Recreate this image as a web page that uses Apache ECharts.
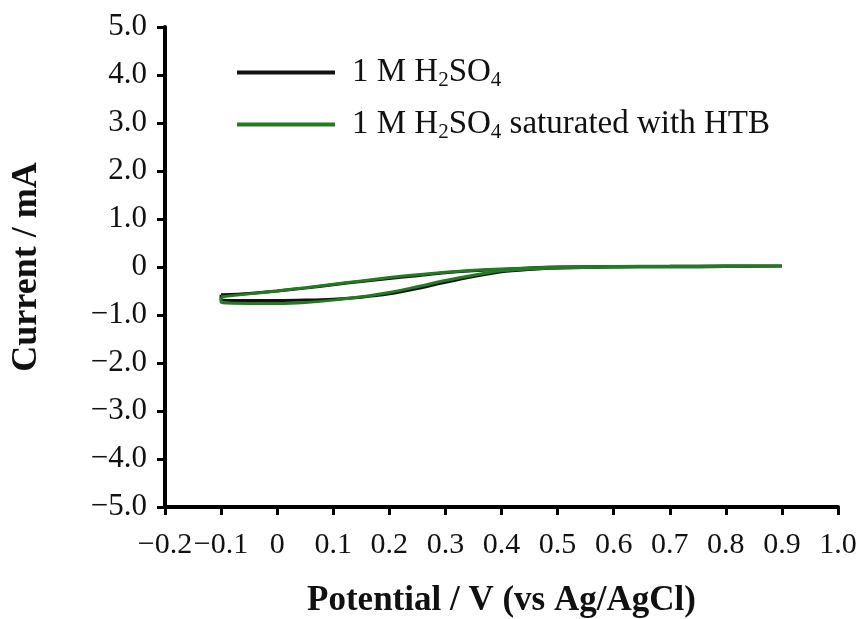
<!DOCTYPE html>
<html>
<head>
    <meta charset="UTF-8">
    <title>CV</title>
    <script src="https://cdn.jsdelivr.net/npm/echarts@6/dist/echarts.min.js"></script>
    <style type="text/css">
        html, body, #main {
            height: 100%;
            width: 100%;
            margin: 0;
            padding: 0;
            background: #fff;
        }
    </style>
</head>
<body>
<div id="main"></div>
<script type="text/javascript">
    // potential (V) and current (mA), forward scan then reverse scan
    var blackV = [-0.1, -0.05, 0, 0.05, 0.1, 0.15, 0.2, 0.25, 0.3, 0.35, 0.4, 0.45, 0.5, 0.6, 0.7, 0.8, 0.9,
                  0.8, 0.7, 0.6, 0.5, 0.45, 0.4, 0.35, 0.3, 0.25, 0.2, 0.15, 0.1, 0.05, 0, -0.05, -0.1, -0.1];
    var blackI = [-0.58, -0.55, -0.50, -0.44, -0.37, -0.30, -0.24, -0.18, -0.12, -0.08, -0.05, -0.02, 0.0, 0.01, 0.015, 0.02, 0.02,
                  0.01, 0.005, 0.0, -0.02, -0.05, -0.10, -0.20, -0.32, -0.45, -0.56, -0.63, -0.67, -0.69, -0.70, -0.70, -0.68, -0.58];
    var greenV = [-0.1, -0.05, 0, 0.05, 0.1, 0.15, 0.2, 0.25, 0.3, 0.35, 0.4, 0.45, 0.5, 0.6, 0.7, 0.8, 0.9,
                  0.8, 0.7, 0.6, 0.5, 0.45, 0.4, 0.35, 0.3, 0.25, 0.2, 0.15, 0.1, 0.05, 0, -0.05, -0.1, -0.1];
    var greenI = [-0.62, -0.56, -0.50, -0.43, -0.36, -0.29, -0.22, -0.16, -0.11, -0.07, -0.04, -0.02, -0.005, 0.01, 0.015, 0.02, 0.02,
                  0.01, 0.005, 0.0, -0.02, -0.04, -0.08, -0.17, -0.28, -0.41, -0.53, -0.62, -0.69, -0.74, -0.76, -0.76, -0.74, -0.62];
    var seriesNames = ['1 M H2SO4', '1 M H2SO4 saturated with HTB'];

    function zip(a, b) {
        var out = [];
        for (var i = 0; i < a.length; i++) out.push([a[i], b[i]]);
        return out;
    }
    function fmt(v) {
        if (Math.abs(v) < 1e-9) return '0';
        var s = Math.abs(v).toFixed(1);
        return v < 0 ? '\u2212' + s : s;
    }

    var font = '"Liberation Serif", "Times New Roman", serif';
    var mycharts = echarts.init(document.getElementById('main'));
    var option = {
        backgroundColor: '#fff',
        animation: false,
        grid: {left: 165, right: 28, top: 27, bottom: 112, outerBoundsMode: 'none'},
        legend: {
            orient: 'vertical',
            left: 232,
            top: 51,
            itemGap: 17,
            itemWidth: 98,
            itemHeight: 4,
            icon: 'rect',
            data: seriesNames,
            formatter: function (name) {
                return name.replace('H2SO4', 'H{sub|2}SO{sub|4}');
            },
            textStyle: {
                fontFamily: font,
                fontSize: 33,
                color: '#111',
                padding: [0, 0, 0, 12],
                rich: {
                    sub: {fontFamily: font, fontSize: 21, color: '#111', padding: [16, 0, 0, 0]}
                }
            }
        },
        xAxis: {
            type: 'value',
            min: -0.2,
            max: 1.0,
            interval: 0.1,
            name: 'Potential / V (vs Ag/AgCl)',
            nameLocation: 'middle',
            nameGap: 76,
            nameTextStyle: {fontFamily: font, fontSize: 35, fontWeight: 'bold', color: '#111'},
            splitLine: {show: false},
            axisLine: {onZero: false, lineStyle: {color: '#000', width: 4}},
            axisTick: {length: 8, lineStyle: {color: '#000', width: 3}},
            axisLabel: {margin: 23, fontFamily: font, fontSize: 30, color: '#111', formatter: fmt}
        },
        yAxis: {
            type: 'value',
            min: -5,
            max: 5,
            interval: 1,
            name: 'Current / mA',
            nameLocation: 'middle',
            nameGap: 120,
            nameTextStyle: {fontFamily: font, fontSize: 36, fontWeight: 'bold', color: '#111'},
            splitLine: {show: false},
            axisLine: {show: true, onZero: false, lineStyle: {color: '#000', width: 4}},
            axisTick: {show: true, length: 8, lineStyle: {color: '#000', width: 3}},
            axisLabel: {margin: 18, fontFamily: font, fontSize: 31, color: '#111', formatter: fmt}
        },
        series: [
            {
                name: seriesNames[0],
                type: 'line',
                symbol: 'none',
                smooth: 0.3,
                data: zip(blackV, blackI),
                lineStyle: {color: '#111', width: 3},
                itemStyle: {color: '#111'}
            },
            {
                name: seriesNames[1],
                type: 'line',
                symbol: 'none',
                smooth: 0.3,
                data: zip(greenV, greenI),
                lineStyle: {color: '#237a23', width: 3},
                itemStyle: {color: '#237a23'}
            }
        ]
    };
    mycharts.setOption(option);
</script>
</body>
</html>
